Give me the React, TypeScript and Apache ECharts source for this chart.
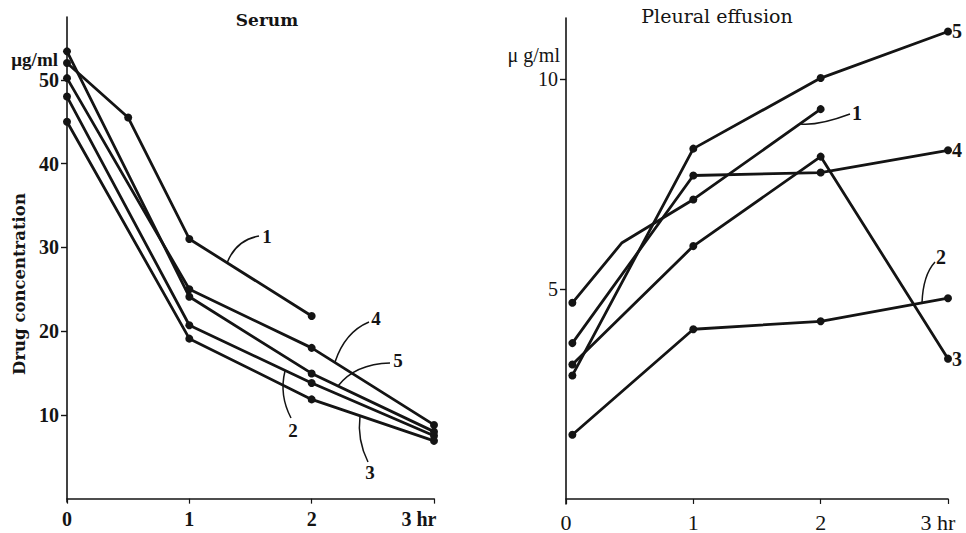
import React, { useEffect, useRef } from 'react';
import * as echarts from 'echarts';

// ---- data ----
const hourTicks = [0, 1, 2, 3];
const serumTicks = [10, 20, 30, 40, 50];
const effusionTicks = [5, 10];

const serumTimes = [0, 1, 2, 3];
const serum1Times = [0, 0.5, 1, 2];
const serum1 = [52.0, 45.5, 31.0, 21.8];
const serum2 = [48.0, 20.7, 13.8, 7.5];
const serum3 = [45.0, 19.1, 11.85, 6.9];
const serum4 = [50.2, 25.0, 18.0, 8.8];
const serum5 = [53.4, 24.1, 14.95, 8.0];

const effusionTimes = [0.05, 1, 2, 3];
const effusion1Times = [0.05, 0.44, 1, 2];
const effusion1 = [4.67, 6.1, 7.13, 9.28];
const effusion1Unmarked = [1];
const effusion2 = [1.53, 4.04, 4.23, 4.78];
const effusion3 = [3.2, 6.02, 8.15, 3.34];
const effusion4 = [3.71, 7.7, 7.77, 8.3];
const effusion5 = [2.94, 8.34, 10.02, 11.13];

const INK = '#141414';
const SERIF = "'Liberation Serif', 'DejaVu Serif', serif";
const DSERIF = "'DejaVu Serif', 'Liberation Serif', serif";

function pts(times: number[], vals: number[], unmarked: number[] = []) {
  return vals.map((v, i) =>
    unmarked.includes(i) ? { value: [times[i], v], symbol: 'none' } : { value: [times[i], v] }
  );
}

function lineSeries(name: string, idx: number, data: any[], endLabel?: string) {
  const s: any = {
    name,
    type: 'line',
    xAxisIndex: idx,
    yAxisIndex: idx,
    data,
    symbol: 'circle',
    symbolSize: 8,
    showAllSymbol: true,
    lineStyle: { color: INK, width: 2.8 },
    itemStyle: { color: INK },
    z: 3,
  };
  if (endLabel) {
    s.endLabel = {
      show: true,
      formatter: endLabel,
      distance: 4,
      color: INK,
      fontFamily: SERIF,
      fontWeight: 'bold',
      fontSize: 20,
    };
  }
  return s;
}

function leader(x1: number, y1: number, cx: number, cy: number, x2: number, y2: number) {
  return {
    type: 'bezierCurve',
    shape: { x1, y1, x2, y2, cpx1: cx, cpy1: cy },
    style: { stroke: INK, lineWidth: 1.5, fill: null },
    silent: true,
  };
}

function label(text: string, x: number, y: number, size = 19, weight = 'bold', family = SERIF) {
  return {
    type: 'text',
    x,
    y,
    style: {
      text,
      fill: INK,
      fontFamily: family,
      fontSize: size,
      fontWeight: weight,
      align: 'center',
      verticalAlign: 'middle',
    },
    silent: true,
  };
}

export default function App() {
  const ref = useRef<HTMLDivElement>(null);

  useEffect(() => {
    if (!ref.current) return;
    const chart = echarts.init(ref.current, undefined, { renderer: 'svg' });

    const xAxisBase = (idx: number, shift: number, bold: boolean, size: number) => ({
      type: 'value',
      gridIndex: idx,
      min: 0,
      max: 3,
      interval: 1,
      axisLine: { show: true, lineStyle: { color: INK, width: 1.6 } },
      axisTick: { show: true, length: 5, lineStyle: { color: INK, width: 1.2 }, customValues: hourTicks },
      splitLine: { show: false },
      axisLabel: {
        customValues: hourTicks,
        margin: 7,
        color: INK,
        fontFamily: SERIF,
        fontWeight: bold ? 'bold' : 'normal',
        fontSize: size,
        formatter: (v: number) => (v === 3 ? '{h|3 hr}' : String(v)),
        rich: {
          h: {
            padding: [0, shift, 0, 0],
            color: INK,
            fontFamily: SERIF,
            fontWeight: bold ? 'bold' : 'normal',
            fontSize: size,
          },
        },
      },
    });

    const yAxisBase = (idx: number, min: number, max: number, ticks: number[], bold: boolean, size: number) => ({
      type: 'value',
      gridIndex: idx,
      min,
      max,
      axisLine: { show: true, lineStyle: { color: INK, width: 1.6 } },
      axisTick: { show: true, length: 6, lineStyle: { color: INK, width: 1.4 }, customValues: ticks },
      splitLine: { show: false },
      axisLabel: {
        customValues: ticks,
        margin: 8,
        color: INK,
        fontFamily: SERIF,
        fontWeight: bold ? 'bold' : 'normal',
        fontSize: size,
      },
    });

    chart.setOption({
      animation: false,
      backgroundColor: '#ffffff',
      grid: [
        { left: 67, right: 532, top: 17, bottom: 31 },
        { left: 566, right: 18, top: 18, bottom: 28 },
      ],
      xAxis: [xAxisBase(0, 30, true, 20), xAxisBase(1, 20, false, 22)],
      yAxis: [
        yAxisBase(0, -0.4, 57.5, serumTicks, true, 20),
        yAxisBase(1, -0.12, 11.45, effusionTicks, false, 20),
      ],
      series: [
        lineSeries('Serum 1', 0, pts(serum1Times, serum1)),
        lineSeries('Serum 2', 0, pts(serumTimes, serum2)),
        lineSeries('Serum 3', 0, pts(serumTimes, serum3)),
        lineSeries('Serum 4', 0, pts(serumTimes, serum4)),
        lineSeries('Serum 5', 0, pts(serumTimes, serum5)),
        lineSeries('Effusion 1', 1, pts(effusion1Times, effusion1, effusion1Unmarked)),
        lineSeries('Effusion 2', 1, pts(effusionTimes, effusion2)),
        lineSeries('Effusion 3', 1, pts(effusionTimes, effusion3), '3'),
        lineSeries('Effusion 4', 1, pts(effusionTimes, effusion4), '4'),
        lineSeries('Effusion 5', 1, pts(effusionTimes, effusion5), '5'),
      ],
      graphic: [
        label('Serum', 267, 20, 17, 'bold', DSERIF),
        label('Pleural effusion', 717, 16, 19, 'normal', DSERIF),
        {
          type: 'text',
          x: 58,
          y: 59,
          style: {
            text: 'μg/ml',
            fill: INK,
            fontFamily: SERIF,
            fontSize: 19,
            fontWeight: 'bold',
            align: 'right',
            verticalAlign: 'middle',
          },
          silent: true,
        },
        {
          type: 'text',
          x: 560,
          y: 55,
          style: {
            text: 'μ g/ml',
            fill: INK,
            fontFamily: SERIF,
            fontSize: 20,
            fontWeight: 'normal',
            align: 'right',
            verticalAlign: 'middle',
          },
          silent: true,
        },
        {
          type: 'text',
          x: 19,
          y: 284,
          rotation: Math.PI / 2,
          style: {
            text: 'Drug concentration',
            fill: INK,
            fontFamily: DSERIF,
            fontSize: 16.5,
            fontWeight: 'bold',
            align: 'center',
            verticalAlign: 'middle',
          },
          silent: true,
        },
        // serum leaders
        leader(227, 263, 236, 240, 259, 236),
        label('1', 267, 236),
        leader(335, 362, 345, 332, 369, 322),
        label('4', 376, 318),
        leader(338, 386, 355, 364, 390, 363),
        label('5', 398, 360),
        leader(285, 371, 279, 395, 291, 418),
        label('2', 293, 430),
        leader(360, 416, 357, 440, 368, 462),
        label('3', 370, 472),
        // effusion leaders
        leader(800, 124, 818, 126, 850, 114),
        label('1', 857, 113, 20),
        leader(922, 303, 923, 275, 935, 262),
        label('2', 941, 257, 20),
      ],
    });

    return () => chart.dispose();
  }, []);

  return (
    <div
      ref={ref}
      style={{ position: 'absolute', left: 0, top: 0, width: 966, height: 533, background: '#fff' }}
    />
  );
}
